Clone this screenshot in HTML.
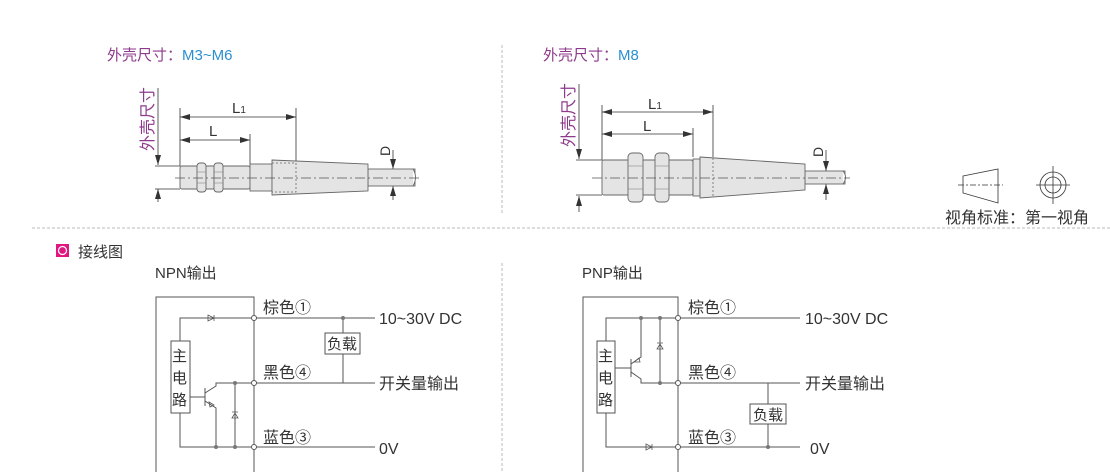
<!DOCTYPE html>
<html><head><meta charset="utf-8"><style>
html,body{margin:0;padding:0;background:#fff;width:1110px;height:472px;overflow:hidden}
svg text{font-family:"Liberation Sans","Noto Sans CJK SC",sans-serif}
</style></head><body>
<svg width="1110" height="472" viewBox="0 0 1110 472" xmlns="http://www.w3.org/2000/svg">
<defs>
<marker id="ar" viewBox="0 0 10 6" refX="10" refY="3" markerWidth="10" markerHeight="6" orient="auto-start-reverse" markerUnits="userSpaceOnUse"><path d="M0,0 L10,3 L0,6 z" fill="#333"/></marker>
</defs>
<g stroke="#bbb" stroke-width="1" stroke-dasharray="3,2" fill="none">
<line x1="32" y1="228" x2="1110" y2="228"/>
<line x1="502" y1="45" x2="502" y2="213"/>
<line x1="502" y1="263" x2="502" y2="472"/>
</g>
<text x="107" y="60" font-size="15" fill="#8e3a8c">外壳尺寸：<tspan fill="#2a8fd0">M3~M6</tspan></text>
<text x="543" y="60" font-size="15" fill="#8e3a8c">外壳尺寸：<tspan fill="#2a8fd0">M8</tspan></text>

<!-- LEFT SENSOR -->
<text transform="translate(153,151) rotate(-90)" font-size="16" fill="#8e3a8c">外壳尺寸</text>
<g stroke="#333" stroke-width="0.8" fill="none">
<line x1="158" y1="88" x2="158" y2="165" marker-end="url(#ar)"/>
<line x1="158" y1="202" x2="158" y2="189" marker-end="url(#ar)"/>
<line x1="155" y1="166" x2="180" y2="166"/><line x1="155" y1="189" x2="180" y2="189"/>
<line x1="180" y1="108" x2="180" y2="166"/><line x1="296" y1="108" x2="296" y2="164"/><line x1="250" y1="134" x2="250" y2="166"/>
<line x1="180" y1="117" x2="296" y2="117" marker-start="url(#ar)" marker-end="url(#ar)"/>
<line x1="180" y1="140" x2="250" y2="140" marker-start="url(#ar)" marker-end="url(#ar)"/>
<line x1="393" y1="150" x2="393" y2="169" marker-end="url(#ar)"/>
<line x1="393" y1="200" x2="393" y2="186" marker-end="url(#ar)"/>
</g>
<text x="232" y="113" font-size="15" fill="#333">L<tspan font-size="10">1</tspan></text>
<text x="209" y="136" font-size="15" fill="#333">L</text>
<text transform="translate(390,156) rotate(-90)" font-size="14" fill="#333">D</text>
<g stroke="#666" stroke-width="0.9" fill="#e4e4e4">
<rect x="368" y="169" width="47" height="17"/>
<rect x="180" y="166" width="70" height="23" rx="2"/>
<rect x="197" y="163" width="9" height="29" rx="3"/><rect x="214" y="163" width="9" height="29" rx="3"/>
<rect x="250" y="164" width="22" height="27"/>
<polygon points="272,160 368,164 368,191 272,195"/>
</g>
<g stroke="#888" stroke-width="0.6"><line x1="197" y1="172" x2="206" y2="172"/><line x1="197" y1="183" x2="206" y2="183"/><line x1="214" y1="172" x2="223" y2="172"/><line x1="214" y1="183" x2="223" y2="183"/></g>
<path d="M413,169 q5,8 0,17" stroke="#666" fill="#fff" stroke-width="0.9"/>
<g stroke="#666" stroke-width="0.8" fill="none" stroke-dasharray="2,2"><path d="M272,163 H296 V192 H272"/></g>
<line x1="175" y1="178" x2="420" y2="178" stroke="#555" stroke-width="0.8" stroke-dasharray="10,3,2,3"/>

<!-- RIGHT SENSOR -->
<text transform="translate(574,147) rotate(-90)" font-size="16" fill="#8e3a8c">外壳尺寸</text>
<g stroke="#333" stroke-width="0.8" fill="none">
<line x1="579" y1="84" x2="579" y2="159" marker-end="url(#ar)"/>
<line x1="579" y1="212" x2="579" y2="196" marker-end="url(#ar)"/>
<line x1="576" y1="160" x2="602" y2="160"/><line x1="576" y1="195" x2="602" y2="195"/>
<line x1="602" y1="105" x2="602" y2="160"/><line x1="713" y1="105" x2="713" y2="157"/><line x1="693" y1="128" x2="693" y2="157"/>
<line x1="602" y1="112" x2="713" y2="112" marker-start="url(#ar)" marker-end="url(#ar)"/>
<line x1="602" y1="134" x2="693" y2="134" marker-start="url(#ar)" marker-end="url(#ar)"/>
<line x1="826" y1="150" x2="826" y2="171" marker-end="url(#ar)"/>
<line x1="826" y1="200" x2="826" y2="184" marker-end="url(#ar)"/>
</g>
<text x="648" y="109" font-size="15" fill="#333">L<tspan font-size="10">1</tspan></text>
<text x="643" y="131" font-size="15" fill="#333">L</text>
<text transform="translate(823,157) rotate(-90)" font-size="14" fill="#333">D</text>
<g stroke="#666" stroke-width="0.9" fill="#e4e4e4">
<rect x="805" y="171" width="40" height="13"/>
<rect x="602" y="160" width="91" height="35" rx="2"/>
<rect x="628" y="153" width="15" height="49" rx="4"/>
<rect x="655" y="153" width="14" height="49" rx="4"/>
<rect x="693" y="159" width="7" height="37"/>
<polygon points="700,157 805,164 805,190 700,198"/>
</g>
<g stroke="#888" stroke-width="0.6"><line x1="628" y1="166" x2="643" y2="166"/><line x1="628" y1="189" x2="643" y2="189"/><line x1="655" y1="166" x2="669" y2="166"/><line x1="655" y1="189" x2="669" y2="189"/></g>
<path d="M843,171 q5,6 0,13" stroke="#666" fill="#fff" stroke-width="0.9"/>
<line x1="713" y1="158" x2="713" y2="197" stroke="#666" stroke-width="0.8" stroke-dasharray="2,2"/>
<line x1="592" y1="178" x2="850" y2="178" stroke="#555" stroke-width="0.8" stroke-dasharray="10,3,2,3"/>

<!-- view symbol -->
<g stroke="#333" stroke-width="0.8" fill="none">
<polygon points="963,176 998,169 998,203 963,193"/>
<line x1="958" y1="185" x2="1003" y2="185" stroke-dasharray="6,2,2,2"/>
<circle cx="1053" cy="185" r="13"/><circle cx="1053" cy="185" r="8"/>
<line x1="1036" y1="185" x2="1070" y2="185"/><line x1="1053" y1="166" x2="1053" y2="204"/>
</g>
<text x="945" y="223" font-size="16" fill="#333">视角标准：第一视角</text>

<rect x="56" y="244" width="13" height="13" fill="#e0177f"/>
<circle cx="62.5" cy="250.5" r="4" fill="none" stroke="#fff" stroke-width="1.2"/>
<text x="78" y="257" font-size="15" fill="#333">接线图</text>
<text x="155" y="278" font-size="15" fill="#333">NPN输出</text>
<text x="582" y="278" font-size="15" fill="#333">PNP输出</text>

<!-- NPN -->
<g stroke="#555" stroke-width="1" fill="none">
<path d="M156,472 V297 H254 V472"/>
<line x1="254" y1="318" x2="375" y2="318"/><line x1="254" y1="383" x2="375" y2="383"/><line x1="254" y1="447" x2="375" y2="447"/>
<path d="M180,341 V318 H254"/><path d="M180,413 V447 H254"/>
<line x1="343" y1="318" x2="343" y2="383"/>
<line x1="190" y1="397" x2="205" y2="397"/><line x1="205" y1="388" x2="205" y2="406"/>
<path d="M205,393 L216,386 V383 H254"/><path d="M205,401 L216,408 V447"/>
<line x1="235" y1="383" x2="235" y2="447"/>
</g>
<rect x="171" y="341" width="19" height="72" fill="#fff" stroke="#555"/>
<text x="172" y="361" font-size="15" fill="#333">主</text><text x="172" y="383" font-size="15" fill="#333">电</text><text x="172" y="405" font-size="15" fill="#333">路</text>
<rect x="325" y="333" width="35" height="21" fill="#fff" stroke="#555"/>
<text x="327" y="349" font-size="15" fill="#333">负载</text>
<path d="M208,315 v6 l6,-3 z M214,315 v6" stroke="#555" fill="none" stroke-width="0.8"/>
<path d="M232,418 h6 l-3,-5 z M232,412 h6" stroke="#555" fill="none" stroke-width="0.8"/>
<path d="M209,402 l5,3 l-4,2 z" stroke="#555" fill="none" stroke-width="0.8"/>
<g fill="#fff" stroke="#555"><circle cx="254" cy="318" r="2.5"/><circle cx="254" cy="383" r="2.5"/><circle cx="254" cy="447" r="2.5"/></g>
<g fill="#777"><circle cx="343" cy="318" r="2"/><circle cx="235" cy="383" r="2"/><circle cx="235" cy="447" r="2"/><circle cx="216" cy="447" r="2"/></g>
<g font-size="16" fill="#333">
<text x="263" y="313">棕色①</text><text x="263" y="378">黑色④</text><text x="263" y="443">蓝色③</text>
<text x="379" y="324">10~30V DC</text><text x="379" y="389">开关量输出</text><text x="379" y="454">0V</text>
</g>

<!-- PNP -->
<g stroke="#555" stroke-width="1" fill="none">
<path d="M583,472 V297 H678 V472"/>
<line x1="678" y1="318" x2="800" y2="318"/><line x1="678" y1="383" x2="800" y2="383"/><line x1="678" y1="447" x2="800" y2="447"/>
<path d="M606,341 V318 H678"/><path d="M606,413 V447 H678"/>
<line x1="768" y1="383" x2="768" y2="447"/>
<line x1="615" y1="368" x2="631" y2="368"/><line x1="631" y1="359" x2="631" y2="377"/>
<path d="M631,364 L641,357 V318"/><path d="M631,372 L641,379 V383 H678"/>
<line x1="660" y1="318" x2="660" y2="383"/>
</g>
<rect x="597" y="341" width="18" height="72" fill="#fff" stroke="#555"/>
<text x="598" y="361" font-size="15" fill="#333">主</text><text x="598" y="383" font-size="15" fill="#333">电</text><text x="598" y="405" font-size="15" fill="#333">路</text>
<rect x="750" y="404" width="36" height="20" fill="#fff" stroke="#555"/>
<text x="753" y="420" font-size="15" fill="#333">负载</text>
<path d="M657,349 h6 l-3,-5 z M657,343 h6" stroke="#555" fill="none" stroke-width="0.8"/>
<path d="M646,444 v6 l6,-3 z M652,444 v6" stroke="#555" fill="none" stroke-width="0.8"/>
<path d="M634,362 l5,-4 l1,4 z" stroke="#555" fill="none" stroke-width="0.8"/>
<g fill="#fff" stroke="#555"><circle cx="678" cy="318" r="2.5"/><circle cx="678" cy="383" r="2.5"/><circle cx="678" cy="447" r="2.5"/></g>
<g fill="#777"><circle cx="641" cy="318" r="2"/><circle cx="660" cy="318" r="2"/><circle cx="660" cy="383" r="2"/><circle cx="768" cy="447" r="2"/></g>
<g font-size="16" fill="#333">
<text x="688" y="313">棕色①</text><text x="688" y="378">黑色④</text><text x="688" y="443">蓝色③</text>
<text x="805" y="324">10~30V DC</text><text x="805" y="389">开关量输出</text><text x="810" y="454">0V</text>
</g>
</svg>
</body></html>
